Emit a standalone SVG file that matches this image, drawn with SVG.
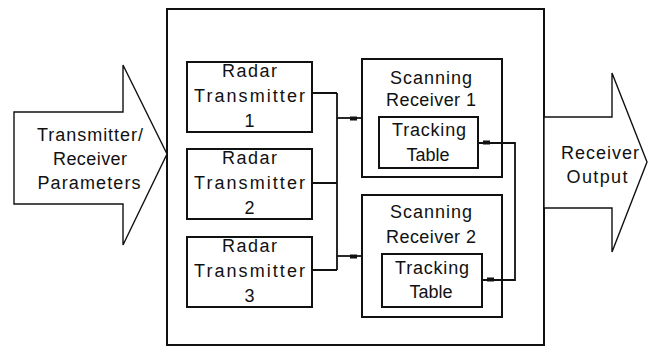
<svg xmlns="http://www.w3.org/2000/svg" width="652" height="353" viewBox="0 0 652 353">
  <style>
    .box { fill: #ffffff; stroke: #111111; stroke-width: 2; }
    .frame { fill: #ffffff; stroke: #111111; stroke-width: 2; }
    .arrow { fill: #ffffff; stroke: #111111; stroke-width: 1.4; stroke-linejoin: miter; }
    .wire { fill: none; stroke: #111111; stroke-width: 1.8; }
    text { font-family: "Liberation Sans", Arial, sans-serif; font-size: 18px; fill: #111111; text-anchor: middle; }
  </style>
  <defs>
    <marker id="tick" markerUnits="userSpaceOnUse" viewBox="-16 -5 20 10" markerWidth="20" markerHeight="10" refX="0" refY="0" orient="auto-start-reverse">
      <rect x="-12" y="-1.5" width="7" height="4" fill="#111111"/>
    </marker>
  </defs>

  <rect width="652" height="353" fill="#ffffff"/>

  <!-- enclosing system frame -->
  <g id="system">
    <rect class="frame" x="167" y="9" width="377" height="336"/>
  </g>

  <!-- input arrow -->
  <g id="input-arrow">
    <polygon class="arrow" points="14,112 123,112 123,65 167,154 123,245 123,204 14,204"/>
    <text x="90" y="141" textLength="106" lengthAdjust="spacing">Transmitter/</text>
    <text x="90" y="165" textLength="74" lengthAdjust="spacing">Receiver</text>
    <text x="89" y="189" textLength="103" lengthAdjust="spacing">Parameters</text>
  </g>

  <!-- output arrow -->
  <g id="output-arrow">
    <polygon class="arrow" points="544,117 612,117 612,73 647,162 612,252 612,208 544,208"/>
    <text x="600" y="159" textLength="78" lengthAdjust="spacing">Receiver</text>
    <text x="597" y="183" textLength="61" lengthAdjust="spacing">Output</text>
  </g>

  <!-- transmitters -->
  <g id="radar-tx-1">
    <rect class="box" x="187" y="62" width="125" height="70"/>
    <text x="249.5" y="77" textLength="55" lengthAdjust="spacing">Radar</text>
    <text x="249.5" y="102" textLength="111" lengthAdjust="spacing">Transmitter</text>
    <text x="249.5" y="127">1</text>
  </g>
  <g id="radar-tx-2">
    <rect class="box" x="187" y="149" width="125" height="70"/>
    <text x="249.5" y="164" textLength="55" lengthAdjust="spacing">Radar</text>
    <text x="249.5" y="189" textLength="111" lengthAdjust="spacing">Transmitter</text>
    <text x="249.5" y="214">2</text>
  </g>
  <g id="radar-tx-3">
    <rect class="box" x="187" y="237" width="125" height="70"/>
    <text x="249.5" y="252" textLength="55" lengthAdjust="spacing">Radar</text>
    <text x="249.5" y="277" textLength="111" lengthAdjust="spacing">Transmitter</text>
    <text x="249.5" y="302">3</text>
  </g>

  <!-- scanning receivers with their tracking tables -->
  <g id="scan-rx-1">
    <rect class="box" x="362" y="59" width="140" height="118"/>
    <text x="431" y="84" textLength="82" lengthAdjust="spacing">Scanning</text>
    <text x="431" y="106" textLength="90" lengthAdjust="spacing">Receiver 1</text>
  </g>
  <g id="track-table-1">
    <rect class="box" x="379" y="117" width="99" height="51"/>
    <text x="429" y="136" textLength="74" lengthAdjust="spacing">Tracking</text>
    <text x="428" y="161" textLength="43" lengthAdjust="spacing">Table</text>
  </g>
  <g id="scan-rx-2">
    <rect class="box" x="362" y="195" width="140" height="122"/>
    <text x="431" y="218" textLength="82" lengthAdjust="spacing">Scanning</text>
    <text x="431" y="243" textLength="90" lengthAdjust="spacing">Receiver 2</text>
  </g>
  <g id="track-table-2">
    <rect class="box" x="382" y="254" width="100" height="53"/>
    <text x="432" y="274" textLength="74" lengthAdjust="spacing">Tracking</text>
    <text x="431" y="298" textLength="43" lengthAdjust="spacing">Table</text>
  </g>

  <!-- connectors -->
  <g id="connectors">
    <path class="wire" d="M312,93 H337 M312,183 H337 M312,270 H337 M337,93 V270"/>
    <path class="wire" d="M337,118 H362" marker-end="url(#tick)"/>
    <path class="wire" d="M337,256 H362" marker-end="url(#tick)"/>
    <path class="wire" d="M478,143 H515 V280 H482" marker-start="url(#tick)" marker-end="url(#tick)"/>
  </g>
</svg>
